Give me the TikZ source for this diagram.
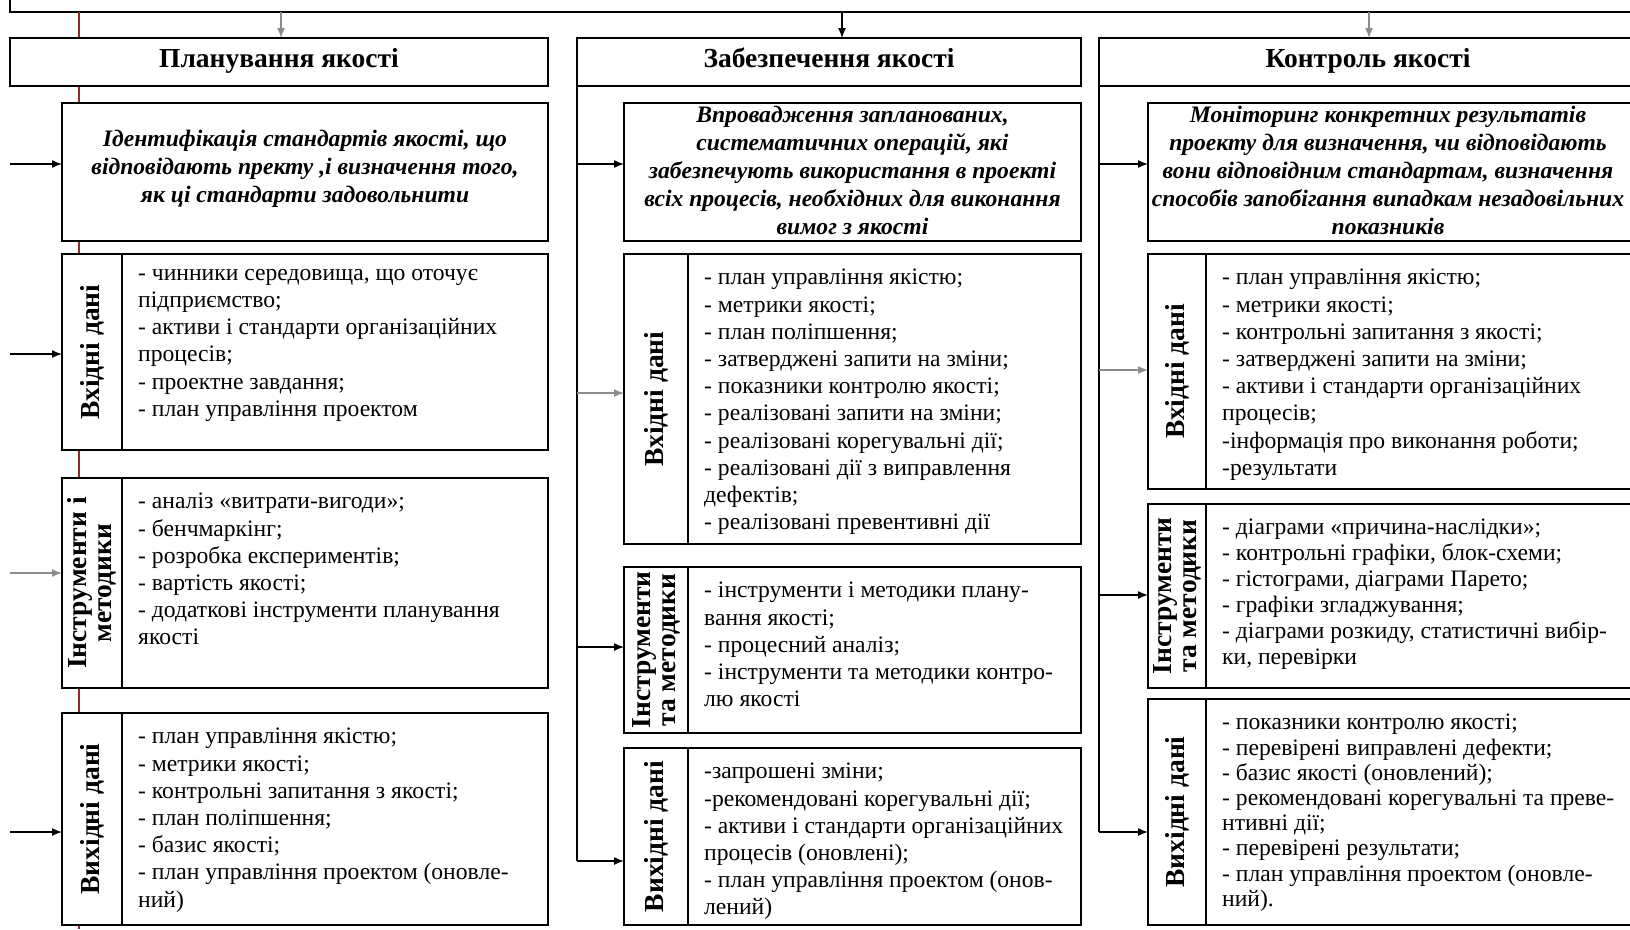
\documentclass[tikz,border=0pt]{standalone}
\usepackage{fontspec}
\setmainfont{Liberation Serif}
\usetikzlibrary{arrows.meta}
\definecolor{redl}{RGB}{150,40,40}
\definecolor{garrc}{RGB}{140,140,140}
\newcommand\qpanel[8]{%
  \node[box, minimum width={#4-#2}, minimum height={#5-#3}] (#1) at (#2,#3) {};
  \coordinate (#1d) at (#6,#3);
  \draw[boxl] (#1d) -- (#1d |- #1.south);
  \node[lab] (#1l) at ({(#2+#6)/2},{(#3+#5)/2}) {#7};
  \node[body] (#1t) at ({#6+16},{#3+15}) {#8};
}
\begin{document}
\begin{tikzpicture}[x=1pt,y=-1pt,
  box/.style={draw, line width=1.5pt, fill=white, inner sep=0pt, outer sep=0pt, anchor=north west},
  boxl/.style={line width=1.5pt},
  hdr/.style={inner sep=0pt, anchor=base, font=\fontsize{27.5}{30}\selectfont\bfseries},
  desc/.style={align=center, inner sep=0pt, font=\fontsize{23.6}{28}\selectfont\bfseries\itshape},
  body/.style={align=left, anchor=north west, inner sep=0pt, font=\fontsize{23.6}{27.2}\selectfont},
  lab/.style={rotate=90, align=center, inner sep=0pt, font=\fontsize{27.5}{25}\selectfont\bfseries},
  arr/.style={line width=1.4pt, -{Latex[length=10pt,width=8pt]}},
  garr/.style={arr, draw=garrc},
  vline/.style={line width=1.4pt},
  redline/.style={line width=1.2pt, draw=redl}]
\useasboundingbox (0,0) rectangle (1630,929);

% top box (cut off)
\node[box, minimum width=1640, minimum height=70] (top) at (10,-58) {};

% red vertical line in the left column
\coordinate (rx) at (79,0);
\coordinate (rb) at (79,929);
\draw[redline] (top.south -| rx) -- (rb);

% headers
\node[box, minimum width=538, minimum height=48] (h1) at (10,38) {};
\node[box, minimum width=504, minimum height=48] (h2) at (577,38) {};
\node[box, minimum width=541, minimum height=48] (h3) at (1099,38) {};
\node[hdr] (h1t) at (279,67) {Планування якості};
\node[hdr] (h2t) at (829,67) {Забезпечення якості};
\node[hdr] (h3t) at (1368,67) {Контроль якості};

% arrows from the top box
\coordinate (tx1) at (281,0);
\coordinate (tx2) at (842,0);
\coordinate (tx3) at (1369,0);
\draw[garr] (top.south -| tx1) -- (h1.north -| tx1);
\draw[arr] (top.south -| tx2) -- (h2.north -| tx2);
\draw[garr] (top.south -| tx3) -- (h3.north -| tx3);

% description boxes
\node[box, minimum width=486, minimum height=138] (d1) at (62,103) {};
\node[box, minimum width=457, minimum height=138] (d2) at (624,103) {};
\node[box, minimum width=492, minimum height=138] (d3) at (1148,103) {};
\node[desc] (d1t) at ([yshift=3pt]d1.center) {Ідентифікація стандартів якості, що\\відповідають пректу ,і визначення того,\\як ці стандарти задовольнити};
\node[desc] (d2t) at ([yshift=2pt]d2.center) {Впровадження запланованих,\\систематичних операцій, які\\забезпечують використання в проекті\\всіх процесів, необхідних для виконання\\вимог з якості};
\node[desc] (d3t) at (1388,170) {Моніторинг конкретних результатів\\проекту для визначення, чи відповідають\\вони відповідним стандартам, визначення\\способів запобігання випадкам незадовільних\\показників};

% column 1 panels
\qpanel{i1}{62}{254}{548}{450}{122}{Вхідні дані}{- чинники середовища, що оточує\\підприємство;\\- активи і стандарти організаційних\\процесів;\\- проектне завдання;\\- план управління проектом}
\qpanel{t1}{62}{478}{548}{688}{122}{Інструменти і\\методики}{- аналіз «витрати-вигоди»;\\- бенчмаркінг;\\- розробка експериментів;\\- вартість якості;\\- додаткові інструменти планування\\якості}
\qpanel{o1}{62}{713}{548}{925}{122}{Вихідні дані}{- план управління якістю;\\- метрики якості;\\- контрольні запитання з якості;\\- план поліпшення;\\- базис якості;\\- план управління проектом (оновле-\\ний)}

% column 2 panels
\qpanel{i2}{624}{254}{1081}{544}{688}{Вхідні дані}{- план управління якістю;\\- метрики якості;\\- план поліпшення;\\- затверджені запити на зміни;\\- показники контролю якості;\\- реалізовані запити на зміни;\\- реалізовані корегувальні дії;\\- реалізовані дії з виправлення\\дефектів;\\- реалізовані превентивні дії}
\qpanel{t2}{624}{567}{1081}{733}{688}{Інструменти\\та методики}{- інструменти і методики плану-\\вання якості;\\- процесний аналіз;\\- інструменти та методики контро-\\лю якості}
\qpanel{o2}{624}{748}{1081}{925}{688}{Вихідні дані}{-запрошені зміни;\\-рекомендовані корегувальні дії;\\- активи і стандарти організаційних\\процесів (оновлені);\\- план управління проектом (онов-\\лений)}

% column 3 panels
\qpanel{i3}{1148}{254}{1640}{489}{1206}{Вхідні дані}{- план управління якістю;\\- метрики якості;\\- контрольні запитання з якості;\\- затверджені запити на зміни;\\- активи і стандарти організаційних\\процесів;\\-інформація про виконання роботи;\\-результати}
\begin{scope}[body/.append style={font=\fontsize{23.6}{26}\selectfont}]
\qpanel{t3}{1148}{504}{1640}{688}{1206}{Інструменти\\та методики}{- діаграми «причина-наслідки»;\\- контрольні графіки, блок-схеми;\\- гістограми, діаграми Парето;\\- графіки згладжування;\\- діаграми розкиду, статистичні вибір-\\ки, перевірки}
\end{scope}
\begin{scope}[body/.append style={font=\fontsize{23.6}{25.2}\selectfont}]
\qpanel{o3}{1148}{699}{1640}{925}{1206}{Вихідні дані}{- показники контролю якості;\\- перевірені виправлені дефекти;\\- базис якості (оновлений);\\- рекомендовані корегувальні та преве-\\нтивні дії;\\- перевірені результати;\\- план управління проектом (оновле-\\ний).}
\end{scope}

% column 1 arrows (free start points at the left)
\coordinate (a1a) at (10,164);
\coordinate (a1b) at (10,354);
\coordinate (a1c) at (10,573);
\coordinate (a1d) at (10,832);
\draw[arr] (a1a) -- (a1a -| d1.west);
\draw[arr] (a1b) -- (a1b -| i1.west);
\draw[garr] (a1c) -- (a1c -| t1.west);
\draw[arr] (a1d) -- (a1d -| o1.west);

% column 2 connectors
\coordinate (a2a) at (577,164);
\coordinate (a2b) at (577,393);
\coordinate (a2c) at (577,647);
\coordinate (a2d) at (577,861);
\draw[vline] (h2.south west) -- (a2d);
\draw[arr] (a2a) -- (a2a -| d2.west);
\draw[garr] (a2b) -- (a2b -| i2.west);
\draw[arr] (a2c) -- (a2c -| t2.west);
\draw[arr] (a2d) -- (a2d -| o2.west);

% column 3 connectors
\coordinate (a3a) at (1099,164);
\coordinate (a3b) at (1099,370);
\coordinate (a3c) at (1099,595);
\coordinate (a3d) at (1099,832);
\draw[vline] (h3.south west) -- (a3d);
\draw[arr] (a3a) -- (a3a -| d3.west);
\draw[garr] (a3b) -- (a3b -| i3.west);
\draw[arr] (a3c) -- (a3c -| t3.west);
\draw[arr] (a3d) -- (a3d -| o3.west);
\end{tikzpicture}
\end{document}
